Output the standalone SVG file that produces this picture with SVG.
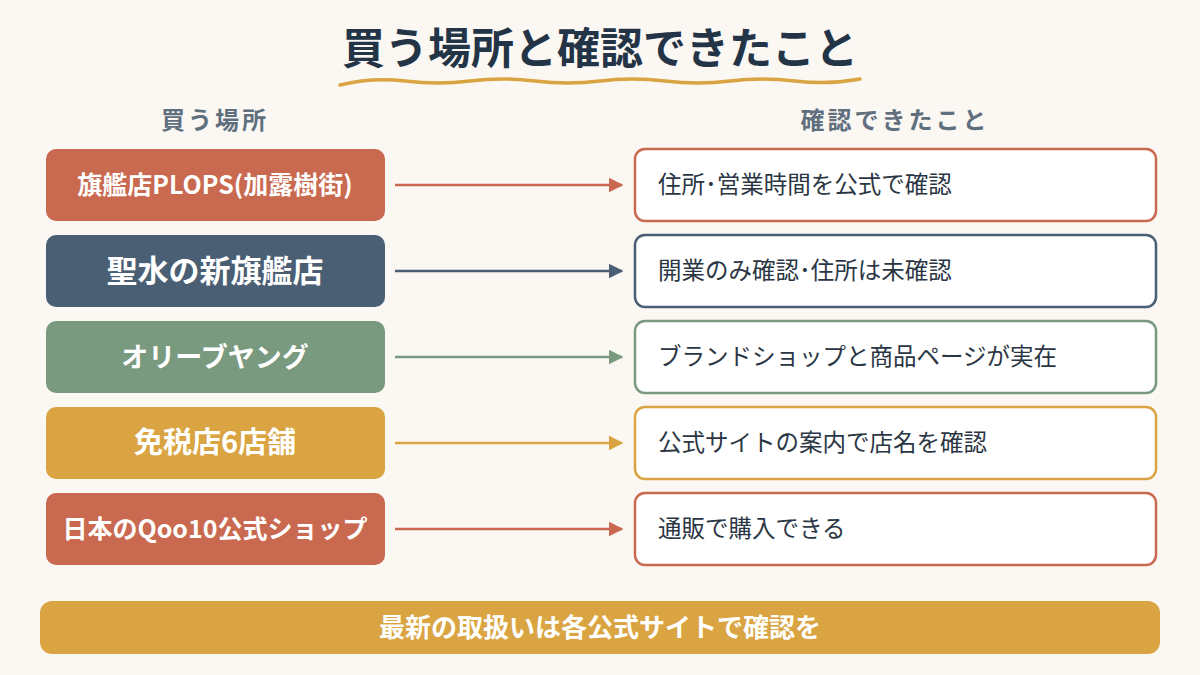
<svg xmlns="http://www.w3.org/2000/svg" width="1200" height="675" viewBox="0 0 1200 675">
<defs>
<style>
text{font-family:"Noto Sans CJK JP","Noto Sans",sans-serif}
.l{font-weight:bold;fill:#fff;text-anchor:middle}
.r{fill:#2b3644;font-size:23.5px}
.rb{fill:#fff;stroke-width:2.5}
.h{fill:#5f6f7e;font-size:24px;font-weight:bold;text-anchor:middle;letter-spacing:3px}
</style>
<marker id="a1" viewBox="0 0 10 10" refX="9" refY="5" markerWidth="6" markerHeight="6" orient="auto"><path d="M0 0L10 5L0 10z" fill="#C96A50"/></marker>
<marker id="a2" viewBox="0 0 10 10" refX="9" refY="5" markerWidth="6" markerHeight="6" orient="auto"><path d="M0 0L10 5L0 10z" fill="#4A5E74"/></marker>
<marker id="a3" viewBox="0 0 10 10" refX="9" refY="5" markerWidth="6" markerHeight="6" orient="auto"><path d="M0 0L10 5L0 10z" fill="#7A9A80"/></marker>
<marker id="a4" viewBox="0 0 10 10" refX="9" refY="5" markerWidth="6" markerHeight="6" orient="auto"><path d="M0 0L10 5L0 10z" fill="#D9A441"/></marker>
</defs>
<rect width="1200" height="675" fill="#FBF7F3"/>
<text x="600" y="64" text-anchor="middle" font-size="43" font-weight="bold" fill="#233447">買う場所と確認できたこと</text>
<path d="M340 85 Q372 77 405 81 T470 81 T535 81 T600 81 T665 81 T730 81 T795 81 T860 79" fill="none" stroke="#D9A441" stroke-width="3.5" stroke-linecap="round"/>
<text class="h" x="215" y="129">買う場所</text>
<text class="h" x="895" y="129">確認できたこと</text>
<g id="connectors" stroke-width="2.5">
<line x1="395" y1="185" x2="622" y2="185" stroke="#C96A50" marker-end="url(#a1)"/>
<line x1="395" y1="271" x2="622" y2="271" stroke="#4A5E74" marker-end="url(#a2)"/>
<line x1="395" y1="357" x2="622" y2="357" stroke="#7A9A80" marker-end="url(#a3)"/>
<line x1="395" y1="443" x2="622" y2="443" stroke="#D9A441" marker-end="url(#a4)"/>
<line x1="395" y1="529" x2="622" y2="529" stroke="#C96A50" marker-end="url(#a1)"/>
</g>
<g id="l1"><rect x="46" y="149" width="339" height="72" rx="10" fill="#C96A50"/><text class="l" x="215" y="194" font-size="25">旗艦店PLOPS(加露樹街)</text></g>
<g id="l2"><rect x="46" y="235" width="339" height="72" rx="10" fill="#4A5E74"/><text class="l" x="215" y="282" font-size="31">聖水の新旗艦店</text></g>
<g id="l3"><rect x="46" y="321" width="339" height="72" rx="10" fill="#7A9A80"/><text class="l" x="215" y="367" font-size="27">オリーブヤング</text></g>
<g id="l4"><rect x="46" y="407" width="339" height="72" rx="10" fill="#D9A441"/><text class="l" x="215" y="453" font-size="29">免税店6店舗</text></g>
<g id="l5"><rect x="46" y="493" width="339" height="72" rx="10" fill="#C96A50"/><text class="l" x="215" y="538" font-size="25">日本のQoo10公式ショップ</text></g>
<g id="r1"><rect class="rb" x="635" y="149" width="521" height="72" rx="10" stroke="#C96A50"/><text class="r" x="658" y="193">住所･営業時間を公式で確認</text></g>
<g id="r2"><rect class="rb" x="635" y="235" width="521" height="72" rx="10" stroke="#4A5E74"/><text class="r" x="658" y="279">開業のみ確認･住所は未確認</text></g>
<g id="r3"><rect class="rb" x="635" y="321" width="521" height="72" rx="10" stroke="#7A9A80"/><text class="r" x="658" y="365">ブランドショップと商品ページが実在</text></g>
<g id="r4"><rect class="rb" x="635" y="407" width="521" height="72" rx="10" stroke="#D9A441"/><text class="r" x="658" y="451">公式サイトの案内で店名を確認</text></g>
<g id="r5"><rect class="rb" x="635" y="493" width="521" height="72" rx="10" stroke="#C96A50"/><text class="r" x="658" y="537">通販で購入できる</text></g>
<g id="footer"><rect x="40" y="601" width="1120" height="53" rx="12" fill="#D9A441"/><text class="l" x="600" y="637" font-size="26">最新の取扱いは各公式サイトで確認を</text></g>
</svg>
